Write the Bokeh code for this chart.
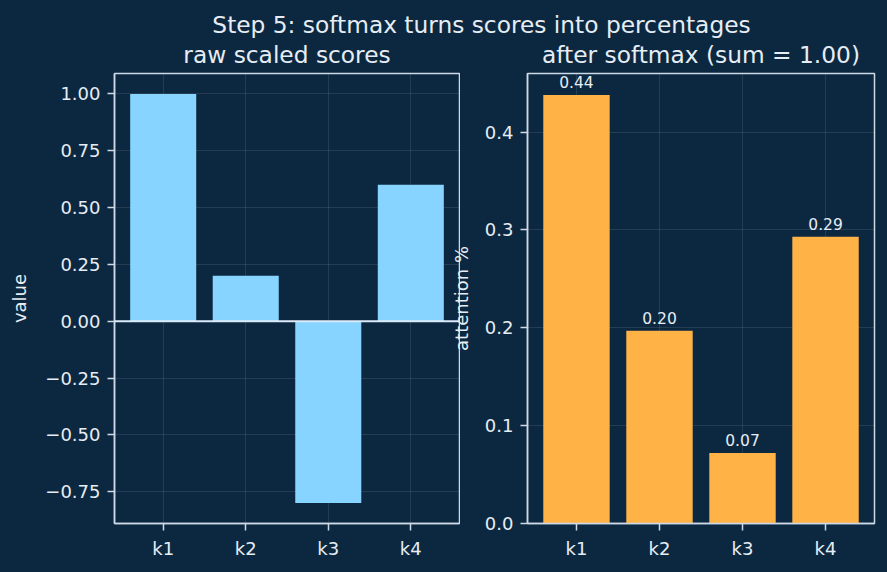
from bokeh.plotting import figure
from bokeh.layouts import column, row
from bokeh.models import (Range1d, FactorRange, FixedTicker, CustomJSTickFormatter,
                          Span, ColumnDataSource)
from bokeh.core.properties import value
from bokeh.embed import file_html
from bokeh.resources import INLINE

# ---- data -------------------------------------------------------------
keys = ["k1", "k2", "k3", "k4"]
raw_scores = [1.0, 0.2, -0.8, 0.6]
attention = [0.438, 0.197, 0.072, 0.293]
raw_ticks = [-0.75, -0.5, -0.25, 0.0, 0.25, 0.5, 0.75, 1.0]
att_ticks = [0.0, 0.1, 0.2, 0.3, 0.4]

main_title = "Step 5: softmax turns scores into percentages"
left_title = "raw scaled scores"
right_title = "after softmax (sum = 1.00)"

# ---- style ------------------------------------------------------------
BG = "#0c2840"
FG = "#e6edf4"
SPINE = "#cdd9e6"
BLUE = "#86d4ff"
ORANGE = "#ffb347"
FONT = "DejaVu Sans"
TICK_PX = "18px"
TITLE_PX = "23.3px"

HEADER_H = 70
BODY_H = 502
LEFT_W, RIGHT_W = 460, 427
OVERLAP = 20          # right panel's border slides under the left panel
FRAME_TOP, FRAME_H = 3, 450
FRAME_BOTTOM = BODY_H - FRAME_TOP - FRAME_H
L_BORDER_L, L_FRAME_W = 114, 345
R_BORDER_L, R_FRAME_W = 67, 347


def style_panel(p, ticks, formatter_code):
    p.background_fill_color = BG
    p.border_fill_color = BG
    p.outline_line_color = SPINE
    p.outline_line_width = 1.5

    for g in (p.xgrid, p.ygrid):
        g.grid_line_color = "white"
        g.grid_line_alpha = 0.13
        g.grid_line_width = 0.8
    p.ygrid.ticker = FixedTicker(ticks=ticks)

    p.yaxis.ticker = FixedTicker(ticks=ticks)
    p.yaxis.formatter = CustomJSTickFormatter(code=formatter_code)

    for ax in (p.xaxis, p.yaxis):
        ax.axis_line_color = SPINE
        ax.axis_line_width = 1.5
        ax.major_tick_line_color = SPINE
        ax.major_tick_line_width = 1.5
        ax.major_tick_out = 7
        ax.major_tick_in = 0
        ax.minor_tick_line_color = None
        ax.major_label_text_font = FONT
        ax.major_label_text_font_size = TICK_PX
        ax.major_label_text_color = FG
        ax.major_label_standoff = 7
        ax.axis_label_text_font = FONT
        ax.axis_label_text_font_size = TICK_PX
        ax.axis_label_text_font_style = "normal"
        ax.axis_label_text_color = FG


def cat_range():
    return FactorRange(factors=keys, range_padding=0.09, range_padding_units="absolute")


# ---- header with the titles -------------------------------------------
header = figure(width=LEFT_W + RIGHT_W, height=HEADER_H,
                x_range=Range1d(0, LEFT_W + RIGHT_W), y_range=Range1d(HEADER_H, 0),
                min_border=0, toolbar_location=None, output_backend="svg")
header.axis.visible = False
header.grid.visible = False
header.outline_line_color = None
header.background_fill_color = BG
header.border_fill_color = BG

left_center = L_BORDER_L + L_FRAME_W / 2
right_center = LEFT_W + R_BORDER_L + R_FRAME_W / 2
header.text(x=[481], y=[24], text=[main_title], text_align="center",
            text_baseline="alphabetic", text_font=value(FONT),
            text_font_size=TITLE_PX, text_color=FG)
header.text(x=[left_center, right_center], y=[53.5, 53.5],
            text=[left_title, right_title], text_align="center",
            text_baseline="alphabetic", text_font=value(FONT),
            text_font_size=TITLE_PX, text_color=FG)

# ---- raw scores -------------------------------------------------------
left = figure(width=LEFT_W, height=BODY_H, x_range=cat_range(),
              y_range=Range1d(-0.89, 1.09),
              min_border_left=L_BORDER_L, min_border_right=LEFT_W - L_BORDER_L - L_FRAME_W,
              min_border_top=FRAME_TOP, min_border_bottom=FRAME_BOTTOM,
              toolbar_location=None, output_backend="svg")
style_panel(left, raw_ticks,
            "return (tick < 0 ? '\u2212' : '') + Math.abs(tick).toFixed(2);")
left.yaxis.axis_label = "value"
left.yaxis.axis_label_standoff = 12

left.vbar(x=keys, top=raw_scores, width=0.8, fill_color=BLUE, line_color=None)
left.add_layout(Span(location=0, dimension="width", line_color="#dcebfa",
                     line_width=1.8))

# ---- softmax output ---------------------------------------------------
right = figure(width=RIGHT_W + OVERLAP, height=BODY_H, x_range=cat_range(),
               y_range=Range1d(0, max(attention) * 1.05),
               min_border_left=R_BORDER_L + OVERLAP,
               min_border_right=RIGHT_W - R_BORDER_L - R_FRAME_W,
               min_border_top=FRAME_TOP, min_border_bottom=FRAME_BOTTOM,
               margin=(0, 0, 0, -OVERLAP),
               toolbar_location=None, output_backend="svg")
style_panel(right, att_ticks, "return tick.toFixed(1);")
right.border_fill_alpha = 0
right.yaxis.axis_label = "attention %"
right.yaxis.axis_label_standoff = 10

src = ColumnDataSource(dict(k=keys, v=attention,
                            lbl=[f"{v:.2f}" for v in attention]))
right.vbar(x="k", top="v", width=0.8, source=src, fill_color=ORANGE,
           line_color=None)
right.text(x="k", y="v", text="lbl", source=src, y_offset=-13,
           text_align="center", text_baseline="alphabetic",
           text_font=value(FONT), text_font_size="15.5px", text_color=FG)

layout = column(header, row(left, right, spacing=0), spacing=0,
                styles={"background-color": BG})

open("out.html", "w").write(file_html(layout, INLINE))
